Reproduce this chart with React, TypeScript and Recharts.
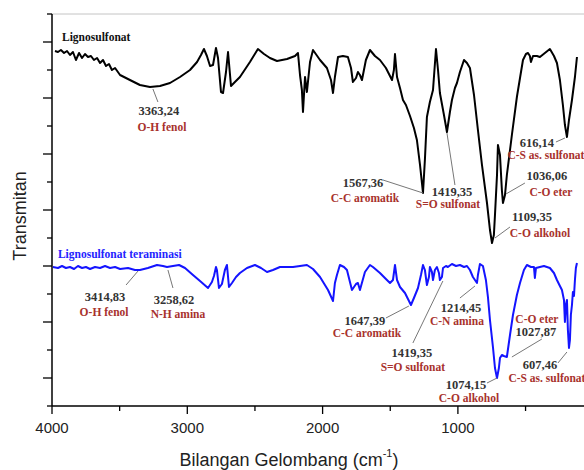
import React from 'react';
import { LineChart, Line, XAxis, YAxis, ReferenceDot, ReferenceLine, Label } from 'recharts';

document.body.style.margin = '0';

const xTicks = [4000, 3500, 3000, 2500, 2000, 1500, 1000, 500];
const yTicks = [0, 28, 56, 84, 112, 140, 168, 196, 224, 252, 280, 308, 336, 364, 392];

// Lignosulfonat (black)
const ligWave = [
  3978, 3956, 3934, 3911, 3889, 3867, 3845, 3823, 3800, 3778,
  3756, 3734, 3712, 3690, 3667, 3645, 3623, 3601, 3579, 3557,
  3534, 3497, 3424, 3350, 3276, 3202, 3128, 3054, 2980, 2928,
  2899, 2877, 2855, 2832, 2810, 2788, 2773, 2751, 2736, 2714,
  2699, 2677, 2648, 2611, 2537, 2478, 2433, 2389, 2337, 2263,
  2204, 2182, 2167, 2153, 2145, 2130, 2116, 2093, 2071, 2019,
  1968, 1938, 1923, 1909, 1886, 1850, 1813, 1790, 1776, 1753,
  1739, 1724, 1709, 1680, 1650, 1613, 1576, 1532, 1487, 1473,
  1465, 1450, 1428, 1406, 1384, 1354, 1325, 1303, 1280, 1258,
  1244, 1229, 1207, 1184, 1162, 1147, 1133, 1103, 1081, 1059,
  1044, 1022, 1007, 985, 955, 933, 911, 881, 852, 822,
  785, 763, 748, 734, 726, 711, 704, 689, 675, 667,
  652, 638, 601, 564, 541, 519, 497, 482, 468, 460,
  445, 416, 394, 357, 320, 290, 268, 246, 224, 209,
  194, 179, 157, 135, 120,
];
const ligTrans = [
  355, 354, 356, 353, 355, 351, 354, 346, 353, 348,
  352, 349, 350, 346, 348, 343, 346, 340, 342, 336,
  338, 331, 326, 321, 319, 320, 323, 329, 336, 344,
  351, 357, 350, 340, 341, 358, 348, 314, 313, 334,
  354, 320, 324, 329, 344, 357, 352, 348, 345, 347,
  350, 353, 331, 316, 294, 329, 314, 344, 356, 346,
  338, 326, 313, 329, 349, 350, 349, 338, 324, 328,
  334, 331, 326, 346, 356, 350, 346, 338, 326, 336,
  352, 329, 318, 306, 301, 290, 278, 266, 241, 213,
  246, 289, 304, 316, 357, 336, 313, 291, 274, 294,
  306, 318, 323, 334, 346, 343, 338, 311, 276, 241,
  203, 176, 163, 171, 191, 231, 261, 251, 216, 203,
  211, 231, 271, 309, 328, 346, 352, 353, 350, 344,
  350, 350, 349, 353, 357, 350, 343, 326, 301, 281,
  269, 286, 306, 329, 349,
];

// Lignosulfonat teraminasi (blue)
const amWave = [
  3993, 3956, 3926, 3897, 3867, 3837, 3808, 3778, 3749, 3719,
  3682, 3645, 3608, 3571, 3534, 3497, 3438, 3387, 3350, 3291,
  3224, 3180, 3150, 3106, 3061, 3017, 2958, 2906, 2847, 2818,
  2803, 2788, 2781, 2766, 2744, 2722, 2707, 2692, 2670, 2640,
  2611, 2559, 2500, 2455, 2411, 2367, 2315, 2263, 2219, 2167,
  2116, 2071, 2019, 1960, 1923, 1909, 1894, 1872, 1842, 1820,
  1783, 1753, 1739, 1724, 1687, 1650, 1628, 1576, 1532, 1502,
  1480, 1465, 1450, 1428, 1391, 1369, 1347, 1325, 1295, 1273,
  1258, 1244, 1229, 1214, 1207, 1192, 1184, 1170, 1155, 1140,
  1133, 1118, 1110, 1088, 1074, 1044, 1014, 985, 955, 933,
  911, 889, 859, 852, 837, 815, 793, 778, 763, 741,
  726, 711, 697, 689, 675, 660, 638, 615, 593, 564,
  541, 512, 490, 460, 438, 431, 423, 394, 364, 342,
  320, 290, 268, 246, 231, 216, 209, 202, 194, 187,
  179, 172, 165, 157, 150, 142, 135, 128, 120,
];
const amTrans = [
  139, 138, 140, 138, 139, 137, 140, 138, 139, 137,
  139, 138, 140, 138, 139, 137, 138, 136, 136, 138,
  141, 140, 139, 140, 141, 138, 131, 125, 118, 124,
  130, 139, 136, 118, 122, 136, 141, 119, 123, 129,
  133, 138, 141, 138, 134, 136, 139, 139, 139, 140,
  141, 137, 129, 116, 105, 123, 131, 141, 139, 136,
  116, 122, 123, 116, 134, 141, 139, 133, 127, 123,
  126, 141, 126, 119, 113, 107, 101, 108, 118, 131,
  141, 136, 121, 129, 139, 134, 126, 136, 139, 133,
  126, 129, 138, 140, 139, 142, 140, 141, 139, 140,
  136, 129, 123, 131, 142, 140, 126, 109, 86, 59,
  38, 28, 38, 48, 51, 50, 49, 71, 91, 111,
  123, 136, 141, 139, 139, 128, 138, 139, 140, 139,
  138, 133, 126, 120, 116, 106, 84, 101, 106, 76,
  58, 66, 91, 101, 114, 110, 126, 138, 143,
];

const ligData = ligWave.map((v, i) => ({ v, t: ligTrans[i] }));
const amData = amWave.map((v, i) => ({ v, t: amTrans[i] }));

// peak labels: anchor in data units, offsets in px from the anchor
const notes = [
  { x: 3254, y: 317, num: '3363,24', name: 'O-H fenol', lead: [5, 13], numAt: [6, 22], nameAt: [9, 38] },
  { x: 1258, y: 213, num: '1567,36', name: 'C-C aromatik', lead: [-40, -13], numAt: [-60, -10], nameAt: [-58, 5] },
  { x: 1081, y: 273, num: '1419,35', name: 'S=O sulfonat', lead: [8, 52], numAt: [5, 59], nameAt: [1, 71] },
  { x: 645, y: 212, num: '1036,06', name: 'C-O eter', lead: [19, -11], numAt: [41, -18], nameAt: [45, -2] },
  { x: 726, y: 168, num: '1109,35', name: 'C-O alkohol', lead: [15, -11], numAt: [37, -21], nameAt: [45, -5] },
  { x: 209, y: 268, num: '616,14', name: 'C-S as. sulfonat', lead: [-9, 4], numAt: [-28, 5], nameAt: [-19, 17] },
  { x: 3364, y: 135, num: '3414,83', name: 'O-H fenol', lead: [-12, 14], numAt: [-33, 26], nameAt: [-34, 41] },
  { x: 3143, y: 136, num: '3258,62', name: 'N-H amina', lead: [5, 18], numAt: [6, 30], nameAt: [10, 44] },
  { x: 1362, y: 100, num: '1647,39', name: 'C-C aromatik', lead: [-23, 12], numAt: [-44, 15], nameAt: [-42, 27] },
  { x: 1111, y: 125, num: '1419,35', name: 'S=O sulfonat', lead: [-30, 62], numAt: [-31, 72], nameAt: [-30, 86] },
  { x: 874, y: 120, num: '1214,45', name: 'C-N amina', lead: [-15, 12], numAt: [-14, 22], nameAt: [-18, 35] },
  { x: 601, y: 49, num: '1027,87', name: 'C-O eter', lead: [30, -18], numAt: [24, -25], nameAt: [25, -38] },
  { x: 711, y: 28, num: '1074,15', name: 'C-O alkohol', lead: [-10, 5], numAt: [-31, 7], nameAt: [-28, 20] },
  { x: 194, y: 54, num: '607,46', name: 'C-S as. sulfonat', lead: [-9, 11], numAt: [-27, 13], nameAt: [-20, 26] },
];

const serif = "'Liberation Serif', 'Times New Roman', serif";
const sans = "'Liberation Sans', Arial, sans-serif";

const NoteMark = ({ cx, cy, note }: any) => (
  <g>
    <line x1={cx} y1={cy} x2={cx + note.lead[0]} y2={cy + note.lead[1]} stroke="#777" strokeWidth={1} />
    <text x={cx + note.numAt[0]} y={cy + note.numAt[1]} textAnchor="middle" dominantBaseline="central"
      fill="#333" fontSize={12.5} fontWeight="bold" fontFamily={serif}>{note.num}</text>
    <text x={cx + note.nameAt[0]} y={cy + note.nameAt[1]} textAnchor="middle" dominantBaseline="central"
      fill="#a8322d" fontSize={11.5} fontWeight="bold" fontFamily={serif}>{note.name}</text>
  </g>
);

const SeriesName = ({ cx, cy, text, color }: any) => (
  <text x={cx} y={cy} dominantBaseline="central" fill={color} fontSize={11.5} fontWeight="bold" fontFamily={serif}>{text}</text>
);

const XTick = ({ x, y, payload }: any) => {
  const major = payload.value % 1000 === 0;
  return (
    <g>
      <line x1={x} x2={x} y1={y} y2={y + (major ? 8 : 5)} stroke="#000" strokeWidth={1.3} />
      {major && (
        <text x={x} y={y + 21} textAnchor="middle" dominantBaseline="central" fontSize={15} fontFamily={sans} fill="#222">
          {payload.value}
        </text>
      )}
    </g>
  );
};

const YTick = ({ x, y, payload }: any) => {
  const long = (payload.value / 28) % 2 === 1;
  return <line x1={x} x2={x - (long ? 9 : 5)} y1={y} y2={y} stroke="#000" strokeWidth={1.3} />;
};

export default function App() {
  return (
    <LineChart width={584} height={470} margin={{ top: 14, right: 0, bottom: 0, left: 0 }}>
      <XAxis
        type="number"
        dataKey="v"
        domain={[68, 4000]}
        reversed
        allowDataOverflow
        ticks={xTicks}
        interval={0}
        height={64}
        tickSize={0}
        tickMargin={0}
        tickLine={false}
        tick={<XTick />}
        axisLine={{ stroke: '#000', strokeWidth: 1.5 }}
      >
        <Label
          content={({ viewBox }: any) => (
            <text x={viewBox.x + viewBox.width / 2 - 29} y={viewBox.y + 54} textAnchor="middle"
              dominantBaseline="central" fontSize={18} fontFamily={sans} fill="#222">
              <tspan>Bilangan Gelombang (cm</tspan>
              <tspan dy={-7} fontSize={11}>-1</tspan>
              <tspan dy={7}>)</tspan>
            </text>
          )}
        />
      </XAxis>
      <YAxis
        type="number"
        domain={[0, 392]}
        allowDataOverflow
        ticks={yTicks}
        interval={0}
        width={52}
        tickSize={0}
        tickMargin={0}
        tickLine={false}
        tick={<YTick />}
        axisLine={{ stroke: '#000', strokeWidth: 1.5 }}
      >
        <Label
          content={() => (
            <text x={20} y={216} textAnchor="middle" dominantBaseline="central" fontSize={18}
              fontFamily={sans} fill="#222" transform="rotate(-90 20 216)">
              Transmitan
            </text>
          )}
        />
      </YAxis>
      <ReferenceLine y={392} stroke="#b5b5b5" strokeWidth={0.8} />
      <Line data={ligData} dataKey="t" type="linear" stroke="#000" strokeWidth={2} dot={false}
        isAnimationActive={false} strokeLinejoin="round" />
      <Line data={amData} dataKey="t" type="linear" stroke="#1414ff" strokeWidth={2} dot={false}
        isAnimationActive={false} strokeLinejoin="round" />
      <ReferenceDot x={3926} y={369} r={0}
        shape={(p: any) => <SeriesName {...p} text="Lignosulfonat" color="#111" />} />
      <ReferenceDot x={3956} y={152} r={0}
        shape={(p: any) => <SeriesName {...p} text="Lignosulfonat teraminasi" color="#2323ff" />} />
      {notes.map((n, i) => (
        <ReferenceDot key={i} x={n.x} y={n.y} r={0} shape={(p: any) => <NoteMark {...p} note={n} />} />
      ))}
    </LineChart>
  );
}
